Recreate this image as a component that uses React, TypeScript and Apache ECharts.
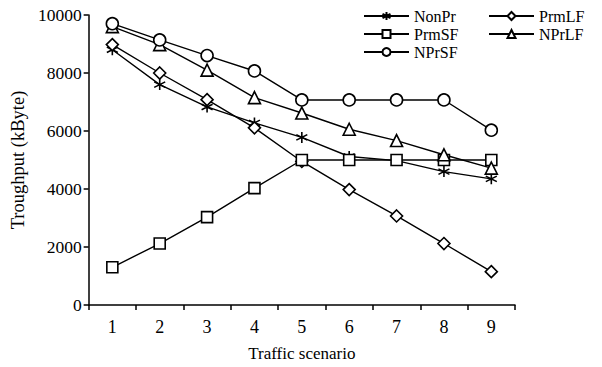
import React, { useEffect, useRef } from "react";
import * as echarts from "echarts";

const categories = ["1", "2", "3", "4", "5", "6", "7", "8", "9"];
const yTicks = [0, 2000, 4000, 6000, 8000, 10000];
const nonPr = [8800, 7600, 6830, 6280, 5780, 5120, 4980, 4600, 4350];
const prmLF = [8980, 8000, 7080, 6110, 4950, 3980, 3070, 2120, 1150];
const prmSF = [1300, 2120, 3030, 4030, 5000, 5000, 5000, 5000, 5000];
const nPrLF = [9600, 8980, 8100, 7150, 6620, 6060, 5670, 5180, 4720];
const nPrSF = [9700, 9140, 8600, 8070, 7070, 7070, 7070, 7070, 6030];

const FONT = "Liberation Serif";
const asterisk = "path://M5 0 L5 10 M0.7 2.5 L9.3 7.5 M9.3 2.5 L0.7 7.5";

const mk = (name: string, data: number[], symbol: string, size: number) => ({
  name,
  type: "line",
  data,
  symbol,
  symbolSize: size,
  showAllSymbol: true,
  lineStyle: { color: "#000", width: 1.4 },
  itemStyle: {
    color: symbol === asterisk ? "rgba(0,0,0,0)" : "#fff",
    borderColor: "#000",
    borderWidth: 1.6,
  },
  emphasis: { disabled: true },
});

const legendAt = (name: string, left: number, top: number) => ({
  data: [name],
  left,
  top,
  padding: 0,
  itemWidth: 45,
  itemHeight: 10,
  textStyle: { fontFamily: FONT, fontSize: 16, color: "#000" },
});

export default function App() {
  const ref = useRef<HTMLDivElement>(null);
  useEffect(() => {
    if (!ref.current) return;
    const chart = echarts.init(ref.current, undefined, { renderer: "svg" });
    chart.setOption({
      animation: false,
      backgroundColor: "#fff",
      textStyle: { fontFamily: FONT, color: "#000" },
      grid: { left: 88, right: 87, top: 15, bottom: 61 },
      legend: [
        legendAt("NonPr", 363, 8),
        legendAt("PrmSF", 363, 26),
        legendAt("NPrSF", 363, 44),
        legendAt("PrmLF", 488, 8),
        legendAt("NPrLF", 488, 26),
      ],
      xAxis: {
        type: "category",
        data: categories,
        boundaryGap: true,
        name: "Traffic scenario",
        nameLocation: "middle",
        nameGap: 40,
        nameTextStyle: { fontFamily: FONT, fontSize: 17, color: "#000" },
        axisLine: { lineStyle: { color: "#000", width: 1.5 } },
        axisTick: { show: true, length: 5, lineStyle: { color: "#000", width: 1.5 } },
        axisLabel: { fontFamily: FONT, fontSize: 18, color: "#000", margin: 13 },
        splitLine: { show: false },
      },
      yAxis: {
        type: "value",
        min: yTicks[0],
        max: yTicks[yTicks.length - 1],
        interval: 2000,
        name: "Troughput (kByte)",
        nameLocation: "middle",
        nameGap: 51,
        nameTextStyle: { fontFamily: FONT, fontSize: 18.5, color: "#000" },
        axisLine: { show: true, lineStyle: { color: "#000", width: 1.5 } },
        axisTick: { show: true, length: 5, lineStyle: { color: "#000", width: 1.5 } },
        axisLabel: {
          fontFamily: FONT,
          fontSize: 17.5,
          color: "#000",
          margin: 7,
          formatter: (v: number) => String(v),
        },
        splitLine: { show: false },
      },
      series: [
        mk("NonPr", nonPr, asterisk, 11),
        mk("PrmLF", prmLF, "diamond", 12),
        mk("PrmSF", prmSF, "rect", 11),
        mk("NPrLF", nPrLF, "triangle", 12),
        mk("NPrSF", nPrSF, "circle", 12),
      ],
    });
    return () => chart.dispose();
  }, []);
  return <div ref={ref} style={{ width: 602, height: 367, position: "absolute", left: 0, top: 0 }} />;
}
